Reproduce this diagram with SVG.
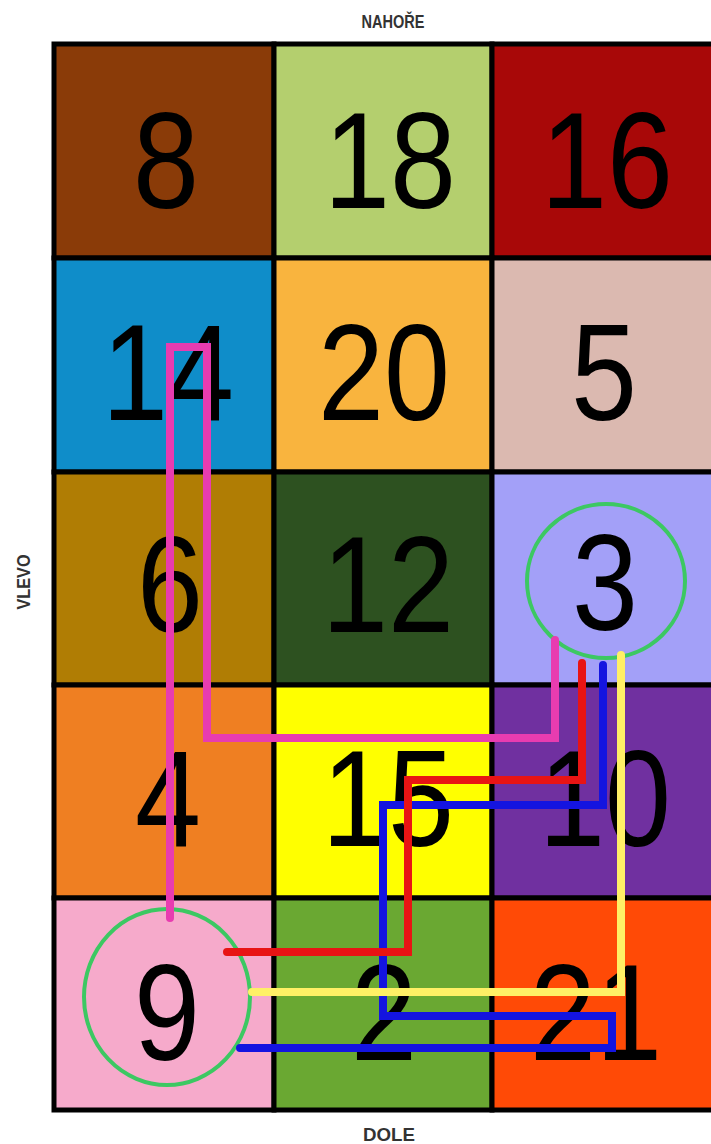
<svg xmlns="http://www.w3.org/2000/svg" width="711" height="1144" viewBox="0 0 711 1144">
<style>
.cell{stroke:#000;stroke-width:5}
.num{font-family:"Liberation Sans",Arial,sans-serif;font-size:138px;fill:#000;text-anchor:middle}
.lbl{font-family:"Liberation Sans",Arial,sans-serif;font-size:18px;font-weight:bold;fill:#333;text-anchor:middle}
.ring{fill:none;stroke:#3cc862;stroke-width:4}
.wire{fill:none;stroke-width:8;stroke-linecap:round;stroke-linejoin:miter}
</style>
<rect width="711" height="1144" fill="#fff"/>
<text class="lbl" x="393" y="28" textLength="63" lengthAdjust="spacingAndGlyphs">NAHOŘE</text>
<text class="lbl" transform="translate(30,582) rotate(-90)" x="0" y="0" textLength="55" lengthAdjust="spacingAndGlyphs">VLEVO</text>
<text class="lbl" x="389" y="1141" textLength="52" lengthAdjust="spacingAndGlyphs">DOLE</text>

<g id="n8"><rect class="cell" x="54" y="44" width="220" height="214" fill="#8a3b08"/><text class="num" transform="translate(166,208) scale(0.86,1)">8</text></g>
<g id="n18"><rect class="cell" x="274" y="44" width="218" height="214" fill="#b4cf6e"/><text class="num" transform="translate(390,208) scale(0.86,1)">18</text></g>
<g id="n16"><rect class="cell" x="492" y="44" width="224" height="214" fill="#a80808"/><text class="num" transform="translate(607,208) scale(0.86,1)">16</text></g>

<g id="n14"><rect class="cell" x="54" y="258" width="220" height="214" fill="#0f8dc9"/><text class="num" transform="translate(168,420) scale(0.86,1)">14</text></g>
<g id="n20"><rect class="cell" x="274" y="258" width="218" height="214" fill="#f9b43e"/><text class="num" transform="translate(384,420) scale(0.86,1)">20</text></g>
<g id="n5"><rect class="cell" x="492" y="258" width="224" height="214" fill="#dbb9b0"/><text class="num" transform="translate(604,420) scale(0.86,1)">5</text></g>

<g id="n6"><rect class="cell" x="54" y="472" width="220" height="213" fill="#b07d04"/><text class="num" transform="translate(170,632) scale(0.86,1)">6</text></g>
<g id="n12"><rect class="cell" x="274" y="472" width="218" height="213" fill="#2d5120"/><text class="num" transform="translate(388,632) scale(0.86,1)">12</text></g>
<g id="n3"><rect class="cell" x="492" y="472" width="224" height="213" fill="#a3a0f8"/><text class="num" transform="translate(605,630) scale(0.86,1)">3</text><ellipse class="ring" cx="606" cy="581" rx="79" ry="77"/></g>

<g id="n4"><rect class="cell" x="54" y="685" width="220" height="213" fill="#ef7f22"/><text class="num" transform="translate(168,846) scale(0.86,1)">4</text></g>
<g id="n15"><rect class="cell" x="274" y="685" width="218" height="213" fill="#ffff00"/><text class="num" transform="translate(388,846) scale(0.86,1)">15</text></g>
<g id="n10"><rect class="cell" x="492" y="685" width="224" height="213" fill="#7030a0"/><text class="num" transform="translate(605,846) scale(0.86,1)">10</text></g>

<g id="n9"><rect class="cell" x="54" y="898" width="220" height="212" fill="#f6aacb"/><text class="num" transform="translate(167,1060) scale(0.86,1)">9</text><ellipse class="ring" cx="167" cy="997" rx="83" ry="88"/></g>
<g id="n2"><rect class="cell" x="274" y="898" width="218" height="212" fill="#6aa832"/><text class="num" transform="translate(384,1060) scale(0.86,1)">2</text></g>
<g id="n21"><rect class="cell" x="492" y="898" width="224" height="212" fill="#ff4a06"/><text class="num" transform="translate(596,1060) scale(0.86,1)">21</text></g>

<g id="connectors">
<path class="wire" stroke="#1414e0" d="M603,665 V805 H383 V1016 H612 V1048 H240"/>
<path class="wire" stroke="#e81414" d="M582,663 V780 H408 V952 H227"/>
<path class="wire" stroke="#fff066" d="M621,655 V992 H252"/>
<path class="wire" stroke="#e83cb0" d="M555,640 V738 H207 V347 H170 V918"/>
</g>
</svg>
